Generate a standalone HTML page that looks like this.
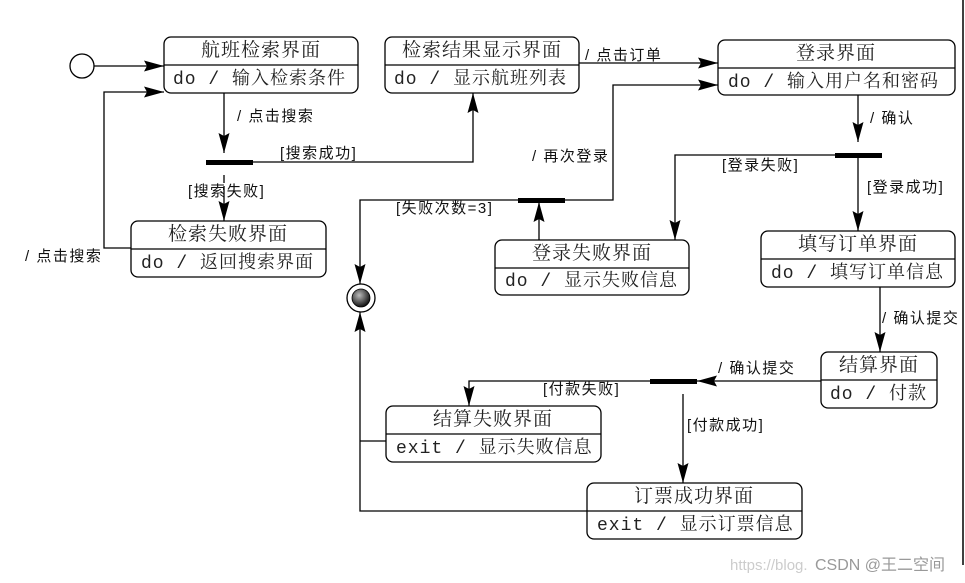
<!DOCTYPE html>
<html><head><meta charset="utf-8"><style>
html,body{margin:0;padding:0;background:#fff;}
svg{display:block;}
.t{font-family:"Liberation Serif","Noto Serif CJK SC",serif;font-size:19px;fill:#222;letter-spacing:1px;}
.b{font-family:"Liberation Mono","Noto Serif CJK SC",monospace;font-size:18px;fill:#222;letter-spacing:1px;}
.l{font-family:"Liberation Sans","Noto Sans CJK SC",sans-serif;font-size:15px;fill:#111;letter-spacing:1.5px;}
</style></head><body>
<svg width="965" height="583" viewBox="0 0 965 583" xmlns="http://www.w3.org/2000/svg">
<defs>
<marker id="a" markerWidth="20" markerHeight="11" refX="20" refY="5.5" orient="auto" markerUnits="userSpaceOnUse" viewBox="0 0 20 11">
<path d="M0,0 L20,5.5 L0,11 L3,5.5 Z" fill="#000"/></marker>
<radialGradient id="g" cx="40%" cy="35%" r="65%"><stop offset="0" stop-color="#bbb"/><stop offset="1" stop-color="#111"/></radialGradient>
</defs>
<line x1="963" y1="0" x2="963" y2="565" stroke="#000" stroke-width="1.5"/>
<g fill="none" stroke="#000" stroke-width="1.3">
<rect x="164" y="37" width="194" height="56" rx="7"/><line x1="164" y1="65" x2="358" y2="65"/>
<rect x="385" y="37" width="194" height="56" rx="7"/><line x1="385" y1="65" x2="579" y2="65"/>
<rect x="131" y="221" width="195" height="56" rx="7"/><line x1="131" y1="249" x2="326" y2="249"/>
<rect x="718" y="40" width="237" height="55" rx="7"/><line x1="718" y1="68" x2="955" y2="68"/>
<rect x="495" y="240" width="194" height="55" rx="7"/><line x1="495" y1="268" x2="689" y2="268"/>
<rect x="761" y="231" width="194" height="56" rx="7"/><line x1="761" y1="259" x2="955" y2="259"/>
<rect x="821" y="352" width="116" height="56" rx="7"/><line x1="821" y1="380" x2="937" y2="380"/>
<rect x="386" y="406" width="215" height="56" rx="7"/><line x1="386" y1="434" x2="601" y2="434"/>
<rect x="587" y="483" width="215" height="56" rx="7"/><line x1="587" y1="511" x2="802" y2="511"/>
<circle cx="82" cy="66" r="12"/>
<circle cx="361" cy="298" r="14"/>
<line x1="94" y1="66" x2="164" y2="66" marker-end="url(#a)"/>
<polyline points="131,248 104,248 104,92 164,92" marker-end="url(#a)"/>
<line x1="224" y1="93" x2="224" y2="153" marker-end="url(#a)"/>
<polyline points="253,162 473,162 473,93" marker-end="url(#a)"/>
<line x1="224" y1="175" x2="224" y2="183"/>
<line x1="224" y1="186" x2="224" y2="221" marker-end="url(#a)"/>
<line x1="579" y1="63" x2="718" y2="63" marker-end="url(#a)"/>
<polyline points="565,200 613,200 613,85 718,85" marker-end="url(#a)"/>
<polyline points="518,200 360,200 360,284" marker-end="url(#a)"/>
<line x1="539" y1="240" x2="539" y2="202" marker-end="url(#a)"/>
<line x1="858" y1="95" x2="858" y2="142" marker-end="url(#a)"/>
<polyline points="835,155 675,155 675,240" marker-end="url(#a)"/>
<line x1="858" y1="155" x2="858" y2="231" marker-end="url(#a)"/>
<line x1="880" y1="287" x2="880" y2="352" marker-end="url(#a)"/>
<line x1="821" y1="381" x2="697" y2="381" marker-end="url(#a)"/>
<polyline points="650,381 469,381 469,406" marker-end="url(#a)"/>
<line x1="683" y1="394" x2="683" y2="483" marker-end="url(#a)"/>
<polyline points="386,441 360,441"/>
<polyline points="587,511 360,511 360,312" marker-end="url(#a)"/>
</g>
<circle cx="361" cy="298" r="9" fill="url(#g)" stroke="#000" stroke-width="0.8"/>
<g fill="#000">
<rect x="206" y="160" width="47" height="5"/>
<rect x="518" y="198" width="47" height="5"/>
<rect x="835" y="153" width="47" height="5"/>
<rect x="650" y="379" width="47" height="5"/>
</g>
<g class="t" text-anchor="middle">
<text x="261" y="56">航班检索界面</text>
<text x="482" y="56">检索结果显示界面</text>
<text x="228" y="240">检索失败界面</text>
<text x="836" y="59">登录界面</text>
<text x="592" y="259">登录失败界面</text>
<text x="858" y="250">填写订单界面</text>
<text x="879" y="371">结算界面</text>
<text x="493" y="425">结算失败界面</text>
<text x="694" y="502">订票成功界面</text>
</g>
<g class="b">
<text x="173" y="84">do / 输入检索条件</text>
<text x="394" y="84">do / 显示航班列表</text>
<text x="141" y="268">do / 返回搜索界面</text>
<text x="728" y="87">do / 输入用户名和密码</text>
<text x="505" y="286">do / 显示失败信息</text>
<text x="771" y="278">do / 填写订单信息</text>
<text x="830" y="399">do / 付款</text>
<text x="396" y="453">exit / 显示失败信息</text>
<text x="597" y="530">exit / 显示订票信息</text>
</g>
<g class="l">
<text x="237" y="121">/ 点击搜索</text>
<text x="280" y="158">[搜索成功]</text>
<text x="188" y="196">[搜索失败]</text>
<text x="25" y="261">/ 点击搜索</text>
<text x="585" y="60">/ 点击订单</text>
<text x="532" y="161">/ 再次登录</text>
<text x="396" y="213">[失败次数=3]</text>
<text x="870" y="123">/ 确认</text>
<text x="722" y="170">[登录失败]</text>
<text x="867" y="192">[登录成功]</text>
<text x="882" y="323">/ 确认提交</text>
<text x="718" y="373">/ 确认提交</text>
<text x="543" y="394">[付款失败]</text>
<text x="687" y="430">[付款成功]</text>
</g>
<text x="730" y="570" font-family="Liberation Sans,Noto Sans CJK SC,sans-serif" font-size="15" fill="#ccc">https://blog.</text>
<text x="815" y="570" font-family="Liberation Sans,Noto Sans CJK SC,sans-serif" font-size="16" fill="#999">CSDN @王二空间</text>
</svg>
</body></html>
